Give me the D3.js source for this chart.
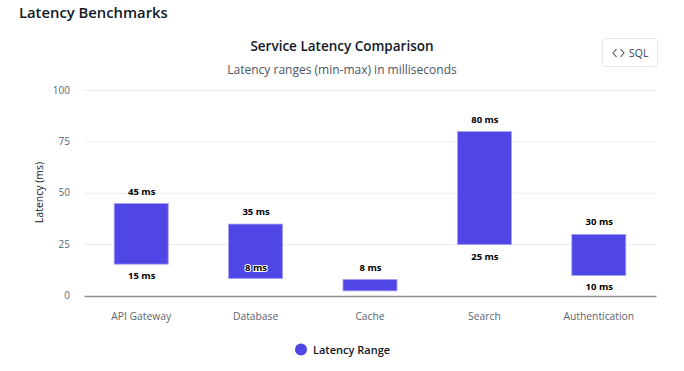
<!DOCTYPE html>
<html>
<head>
<meta charset="utf-8">
<script src="https://cdn.jsdelivr.net/npm/d3@7"></script>
<style>
  html, body { margin: 0; padding: 0; background: #fff; }
  text { font-family: "Open Sans", "Noto Sans", sans-serif; }
</style>
</head>
<body>
<svg id="chart" width="684" height="371"></svg>
<script>
const services = ["API Gateway", "Database", "Cache", "Search", "Authentication"];
const minLatency = [15.5, 8.5, 2.5, 25, 10];
const maxLatency = [45, 35, 8, 80, 30];
// the reference prints no low label on the Cache bar
const lowLabels = ["15 ms", "8 ms", "", "25 ms", "10 ms"];
const highLabels = ["45 ms", "35 ms", "8 ms", "80 ms", "30 ms"];
const yTicks = [0, 25, 50, 75, 100];

const COLOUR_BAR = "#4f46e5";
const rows = services.map((s, i) => ({
  service: s,
  min: minLatency[i],
  max: maxLatency[i],
  low: lowLabels[i],
  high: highLabels[i],
}));

const svg = d3.select("#chart");
const x = d3.scaleBand().domain(services).range([84, 656]);
const y = d3.scaleLinear().domain([0, 100]).range([296, 90.5]);
const barWidth = 54;
const barX = (d) => x(d.service) + x.bandwidth() / 2 - barWidth / 2;

// Heading
svg.append("text").attr("x", 19).attr("y", 18)
  .attr("font-size", 14.8).attr("font-weight", 600).attr("fill", "#111827")
  .text("Latency Benchmarks");
svg.append("text").attr("x", 342).attr("y", 51).attr("text-anchor", "middle")
  .attr("font-size", 13.5).attr("font-weight", 600).attr("fill", "#111827")
  .text("Service Latency Comparison");
svg.append("text").attr("x", 342).attr("y", 74).attr("text-anchor", "middle")
  .attr("font-size", 12).attr("fill", "#4b5563")
  .text("Latency ranges (min-max) in milliseconds");

// SQL button
const button = svg.append("g");
button.append("rect").attr("x", 602.5).attr("y", 38.5).attr("width", 55).attr("height", 28)
  .attr("rx", 3).attr("fill", "#fff").attr("stroke", "#e5e7eb");
button.append("path").attr("d", "M616.5 49 l-3.5 4 l3.5 4 M620.5 49 l3.5 4 l-3.5 4")
  .attr("fill", "none").attr("stroke", "#4b5563").attr("stroke-width", 1.1);
button.append("text").attr("x", 629).attr("y", 57)
  .attr("font-size", 10.5).attr("fill", "#374151").text("SQL");

// Grid
svg.append("g").selectAll("line").data(yTicks.filter((t) => t > 0)).join("line")
  .attr("x1", 84).attr("x2", 656)
  .attr("y1", (d) => y(d)).attr("y2", (d) => y(d))
  .attr("stroke", "#ecedef").attr("stroke-width", 1);

// Axes
const yAxis = svg.append("g").attr("transform", "translate(84,-0.5)")
  .call(d3.axisLeft(y).tickValues(yTicks).tickSize(0).tickPadding(14));
yAxis.select(".domain").remove();
yAxis.selectAll("text").attr("font-size", 10).attr("fill", "#55697a")
  .style("font-family", '"Open Sans", sans-serif');

const xAxis = svg.append("g").attr("transform", "translate(0,296)")
  .call(d3.axisBottom(x).tickSize(0).tickPadding(17));
xAxis.select(".domain").attr("stroke", "#8f8f8f").attr("stroke-width", 1.4);
xAxis.selectAll("text").attr("font-size", 10.3).attr("fill", "#5b6472")
  .style("font-family", '"Open Sans", sans-serif');

svg.append("text")
  .attr("transform", "translate(43,192.5) rotate(-90)")
  .attr("text-anchor", "middle")
  .attr("font-size", 10.5).attr("fill", "#111827")
  .text("Latency (ms)");

// Bars
svg.append("g").selectAll("rect").data(rows).join("rect")
  .attr("x", barX)
  .attr("y", (d) => y(d.max))
  .attr("width", barWidth)
  .attr("height", (d) => y(d.min) - y(d.max))
  .attr("fill", COLOUR_BAR)
  .attr("stroke", "#a5a1f2")
  .attr("stroke-width", 0.8);

// Value labels
const labels = svg.append("g").attr("font-size", 9.5).attr("font-weight", 700)
  .attr("text-anchor", "middle").attr("fill", "#000");

labels.selectAll(".high").data(rows).join("text").attr("class", "high")
  .attr("x", (d) => x(d.service) + x.bandwidth() / 2 + 0.5)
  .attr("y", (d) => y(d.max) - 9)
  .text((d) => d.high);

labels.selectAll(".low").data(rows.filter((d) => d.low)).join("text").attr("class", "low")
  .attr("x", (d) => x(d.service) + x.bandwidth() / 2 + 0.5)
  .attr("y", (d) => y(d.min) + 15)
  .text((d) => d.low);

// the Database low label sits on the bar, needs the white halo
labels.selectAll(".low").filter((d) => d.service === "Database")
  .attr("y", (d) => y(d.min) - 8)
  .attr("stroke", "#fff").attr("stroke-width", 2).attr("paint-order", "stroke");

// Legend
svg.append("circle").attr("cx", 301).attr("cy", 349.5).attr("r", 6).attr("fill", COLOUR_BAR);
svg.append("text").attr("x", 313).attr("y", 354)
  .attr("font-size", 11).attr("font-weight", 600).attr("fill", "#111827")
  .text("Latency Range");
</script>
</body>
</html>
